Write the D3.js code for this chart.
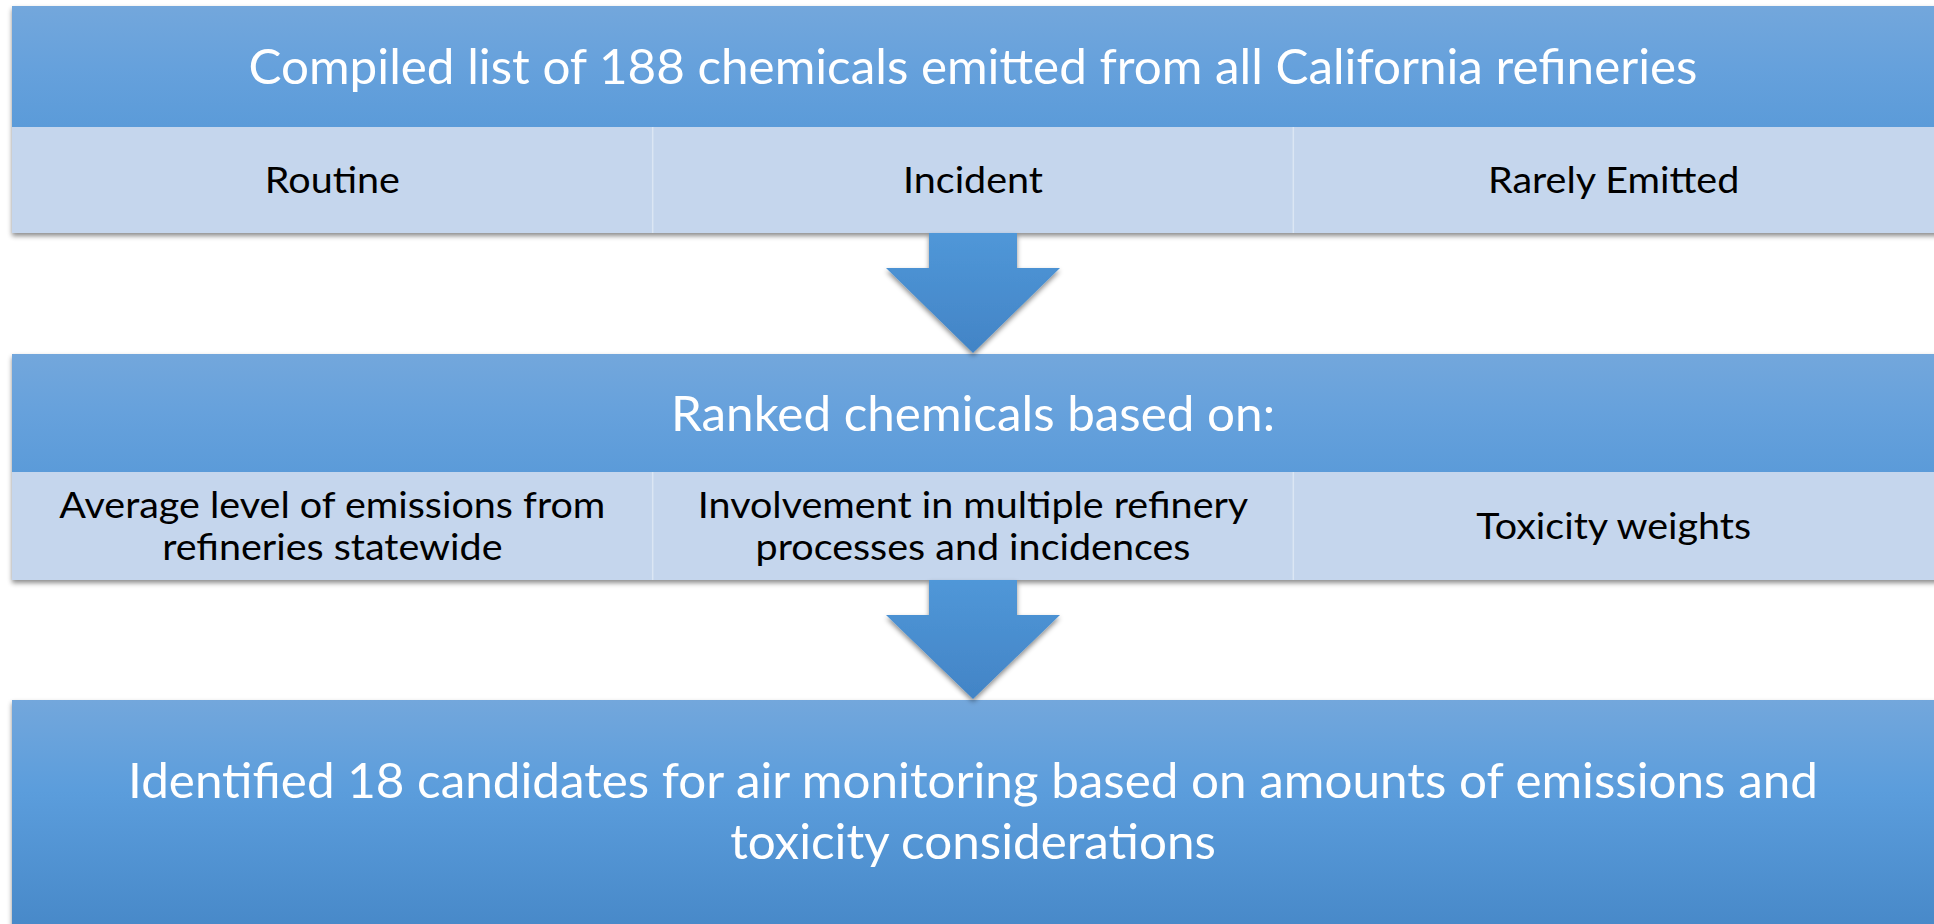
<!DOCTYPE html>
<html lang="en">
<head>
    <meta charset="UTF-8">
    <title>Refinery chemicals selection flow</title>
    <script src="https://d3js.org/d3.v7.min.js"></script>
    <style>
        html, body { margin: 0; padding: 0; background: #fff; }
        svg { display: block; }
        .head { font-family: Lato, "Open Sans", sans-serif; font-size: 49px; fill: #fff; }
        .item { font-family: Lato, "Open Sans", sans-serif; font-size: 37px; fill: #000; }
    </style>
</head>
<body>
    <svg width="1934" height="924"></svg>
    <script>
        // flow content
        const stageTitles = [
            ["Compiled list of 188 chemicals emitted from all California refineries"],
            ["Ranked chemicals based on:"],
            ["Identified 18 candidates for air monitoring based on amounts of emissions and", "toxicity considerations"]
        ];
        const stage1Items = [["Routine"], ["Incident"], ["Rarely Emitted"]];
        const stage2Items = [
            ["Average level of emissions from", "refineries statewide"],
            ["Involvement in multiple refinery", "processes and incidences"],
            ["Toxicity weights"]
        ];

        const svg = d3.select("svg"),
            width = +svg.attr("width"),
            height = +svg.attr("height");

        // vertical layout of the three blocks
        const boxes = [
            { top: 6, headBottom: 127, bottom: 233, title: stageTitles[0], items: stage1Items },
            { top: 354, headBottom: 472, bottom: 580, title: stageTitles[1], items: stage2Items },
            { top: 700, headBottom: 960, bottom: 960, title: stageTitles[2], items: [] }
        ];
        const left = 12, right = width;
        const headLine = 61, itemLine = 42;
        const titleWidth = 1449; // width of the first title in the reference
        const itemWidth = 546;   // width of "Average level of emissions from"

        const x = d3.scaleBand().domain(d3.range(3)).range([left, right]);

        const defs = svg.append("defs");
        function grad(id, stops) {
            const g = defs.append("linearGradient").attr("id", id)
                .attr("x1", 0).attr("y1", 0).attr("x2", 0).attr("y2", 1);
            stops.forEach(s => g.append("stop").attr("offset", s[0]).attr("stop-color", s[1]));
        }
        grad("headGrad", [[0, "#73a7dc"], [0.5, "#66a1dc"], [1, "#5b9bd9"]]);
        grad("bigGrad", [[0, "#73a7dc"], [0.35, "#5b9ddc"], [1, "#4384c4"]]);
        grad("arrowGrad", [[0, "#5097d8"], [1, "#4284c6"]]);

        const shadow = defs.append("filter").attr("id", "shadow")
            .attr("x", "-10%").attr("y", "-10%").attr("width", "120%").attr("height", "130%");
        shadow.append("feDropShadow").attr("dx", 0).attr("dy", 3).attr("stdDeviation", 2.5)
            .attr("flood-color", "#000").attr("flood-opacity", 0.45);

        const heads = [], items = [];

        boxes.forEach(b => {
            const g = svg.append("g");
            g.append("rect")
                .attr("x", left).attr("y", b.top)
                .attr("width", right - left + 10).attr("height", b.bottom - b.top)
                .attr("fill", "#c5d6ed")
                .attr("filter", "url(#shadow)");
            g.append("rect")
                .attr("x", left).attr("y", b.top)
                .attr("width", right - left + 10).attr("height", b.headBottom - b.top)
                .attr("fill", b.items.length ? "url(#headGrad)" : "url(#bigGrad)");

            // title lines
            const cy = b.items.length ? (b.top + b.headBottom) / 2 : b.top + 111;
            const n = b.title.length;
            b.title.forEach((line, i) => {
                heads.push(g.append("text")
                    .attr("class", "head")
                    .attr("x", (left + right) / 2)
                    .attr("y", cy + (i - (n - 1) / 2) * headLine)
                    .attr("dy", "0.36em")
                    .attr("text-anchor", "middle")
                    .text(line));
            });

            if (!b.items.length) return;

            // column dividers
            g.selectAll(".div")
                .data(d3.range(1, 3))
                .join("line")
                .attr("x1", d => x(d)).attr("x2", d => x(d))
                .attr("y1", b.headBottom).attr("y2", b.bottom)
                .attr("stroke", "#dbe6f4").attr("stroke-width", 1.5);

            const my = (b.headBottom + b.bottom) / 2;
            b.items.forEach((lines, c) => {
                lines.forEach((line, i) => {
                    items.push(g.append("text")
                        .attr("class", "item")
                        .attr("x", x(c) + x.bandwidth() / 2)
                        .attr("y", my + (i - (lines.length - 1) / 2) * itemLine)
                        .attr("dy", "0.36em")
                        .attr("text-anchor", "middle")
                        .text(line));
                });
            });
        });

        // arrows between blocks
        const cx = x(1) + x.bandwidth() / 2;
        const shaftW = 88, headW = 174, shaftH = 35;
        d3.range(2).forEach(i => {
            const y0 = boxes[i].bottom, y1 = boxes[i + 1].top - 1;
            const path = d3.path();
            path.moveTo(cx - shaftW / 2, y0);
            path.lineTo(cx + shaftW / 2, y0);
            path.lineTo(cx + shaftW / 2, y0 + shaftH);
            path.lineTo(cx + headW / 2, y0 + shaftH);
            path.lineTo(cx, y1);
            path.lineTo(cx - headW / 2, y0 + shaftH);
            path.lineTo(cx - shaftW / 2, y0 + shaftH);
            path.closePath();
            svg.append("path")
                .attr("d", path.toString())
                .attr("fill", "url(#arrowGrad)")
                .attr("filter", "url(#shadow)");
        });

        // narrow the text to the proportions of the original face
        function fit(list, ref, target) {
            const factor = target / ref.node().getComputedTextLength();
            list.forEach(t => {
                const len = t.node().getComputedTextLength();
                t.attr("textLength", len * factor).attr("lengthAdjust", "spacingAndGlyphs");
            });
        }
        fit(heads, heads[0], titleWidth);
        fit(items, items[3], itemWidth);
    </script>
</body>
</html>
